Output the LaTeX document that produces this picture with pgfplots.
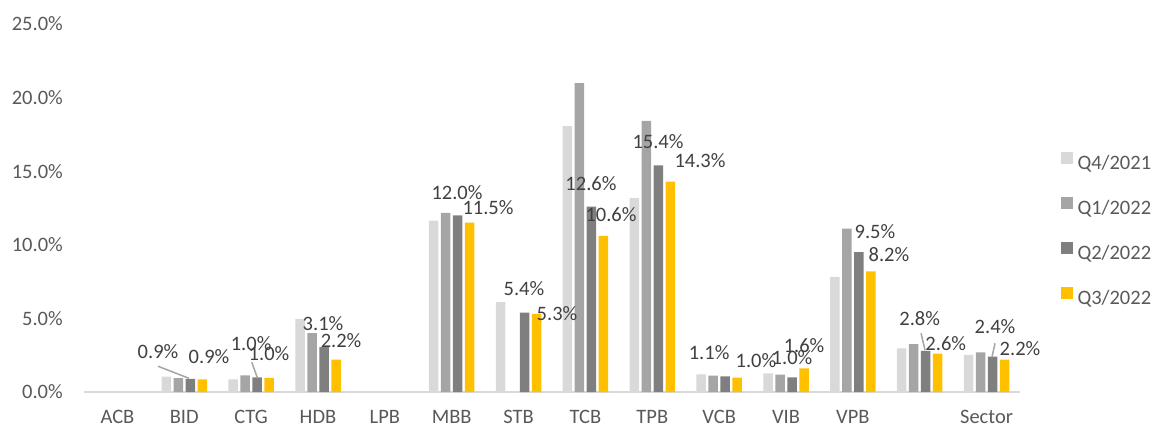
\documentclass[border=0pt]{standalone}
\usepackage{fontspec}
\setmainfont{Carlito}
\usepackage{pgfplots}
\pgfplotsset{compat=1.18}
\definecolor{cQ4}{HTML}{D9D9D9}
\definecolor{cQ1}{HTML}{A5A5A5}
\definecolor{cQ2}{HTML}{7F7F7F}
\definecolor{cQ3}{HTML}{FFC000}
\definecolor{tickgray}{HTML}{595959}
\definecolor{labgray}{HTML}{404040}
\begin{document}
\begin{tikzpicture}[font=\fontsize{20.5bp}{24bp}\selectfont]
\useasboundingbox (0,0) rectangle (1155bp,426bp);
\begin{axis}[
 at={(84bp,34bp)}, anchor=south west,
 scale only axis, width=936bp, height=368bp,
 xmin=-0.5, xmax=13.5, ymin=0, ymax=25,
 xtick={0,...,13},
 xticklabels={ACB,BID,CTG,HDB,LPB,MBB,STB,TCB,TPB,VCB,VIB,VPB,,Sector},
 ytick={0,5,10,15,20,25},
 yticklabels={0.0\%,5.0\%,10.0\%,15.0\%,20.0\%,25.0\%},
 axis x line*=bottom, axis y line*=left,
 x axis line style={draw=cQ4, line width=1.5bp, -},
 y axis line style={draw=none},
 major tick length=0pt,
 tick style={draw=none},
 yticklabel style={anchor=east, inner sep=0pt, xshift=-21bp, text=tickgray},
 xticklabel style={anchor=base, inner sep=0pt, yshift=-31.5bp, text=tickgray},
 legend style={draw=none, fill=none, at={(axis description cs:1.0438,0.652)}, anchor=north west, inner sep=0pt, outer sep=0pt, row sep=24bp, column sep=5bp, nodes={inner sep=0pt, text height=14bp, text depth=4bp, text=tickgray}},
 legend cell align=left,
 legend image code/.code={\fill[#1] (0bp,0.5bp) rectangle (11.5bp,12bp);},
 clip=false,
]
\addplot[ybar, bar width=9.5bp, bar shift=-18bp, fill=cQ4, draw=none] coordinates {(1,1.04) (2,0.85) (3,4.97) (5,11.65) (6,6.1) (7,18.06) (8,13.17) (9,1.2) (10,1.27) (11,7.82) (12,2.97) (13,2.52)};
\addlegendentry{Q4/2021}
\addplot[ybar, bar width=9.5bp, bar shift=-6bp, fill=cQ1, draw=none] coordinates {(1,0.95) (2,1.13) (3,4.0) (5,12.17) (7,20.99) (8,18.42) (9,1.11) (10,1.18) (11,11.1) (12,3.26) (13,2.7)};
\addlegendentry{Q1/2022}
\addplot[ybar, bar width=9.5bp, bar shift=6bp, fill=cQ2, draw=none] coordinates {(1,0.9) (2,1.0) (3,3.05) (5,12.0) (6,5.4) (7,12.6) (8,15.4) (9,1.06) (10,1.0) (11,9.5) (12,2.8) (13,2.4)};
\addlegendentry{Q2/2022}
\addplot[ybar, bar width=9.5bp, bar shift=18bp, fill=cQ3, draw=none] coordinates {(1,0.86) (2,0.96) (3,2.2) (5,11.5) (6,5.3) (7,10.6) (8,14.3) (9,0.98) (10,1.6) (11,8.2) (12,2.6) (13,2.2)};
\addlegendentry{Q3/2022}
% leader lines
\addplot[forget plot, draw=cQ1, line width=1.5bp, no marks] coordinates {(0.607,1.75) (1.07,0.93)};
\addplot[forget plot, draw=cQ1, line width=1.5bp, no marks] coordinates {(2.01,2.02) (2.09,1.0)};
\addplot[forget plot, draw=cQ1, line width=1.5bp, no marks] coordinates {(12.02,3.99) (12.08,2.83)};
\addplot[forget plot, draw=cQ1, line width=1.5bp, no marks] coordinates {(13.126,3.31) (13.08,2.36)};
% data labels
\addplot[forget plot, draw=none, mark=none, nodes near coords, point meta=explicit symbolic,
  nodes near coords style={anchor=center, text=labgray, inner sep=0pt}] table[meta=l] {
x y l
0.607 2.77 0.9\%
1.37 2.43 0.9\%
2.0 3.31 1.0\%
2.267 2.62 1.0\%
3.075 4.67 3.1\%
3.345 3.51 2.2\%
5.079 13.58 12.0\%
5.543 12.56 11.5\%
6.08 7.05 5.4\%
6.575 5.35 5.3\%
7.083 14.19 12.6\%
7.383 12.08 10.6\%
8.086 17.04 15.4\%
8.714 15.75 14.3\%
8.85 2.70 1.1\%
9.55 2.15 1.0\%
10.09 2.36 1.0\%
10.27 3.17 1.6\%
11.33 10.92 9.5\%
11.54 9.36 8.2\%
12.00 5.01 2.8\%
12.39 3.31 2.6\%
13.126 4.47 2.4\%
13.50 2.97 2.2\%
};
\end{axis}
\end{tikzpicture}
\end{document}
